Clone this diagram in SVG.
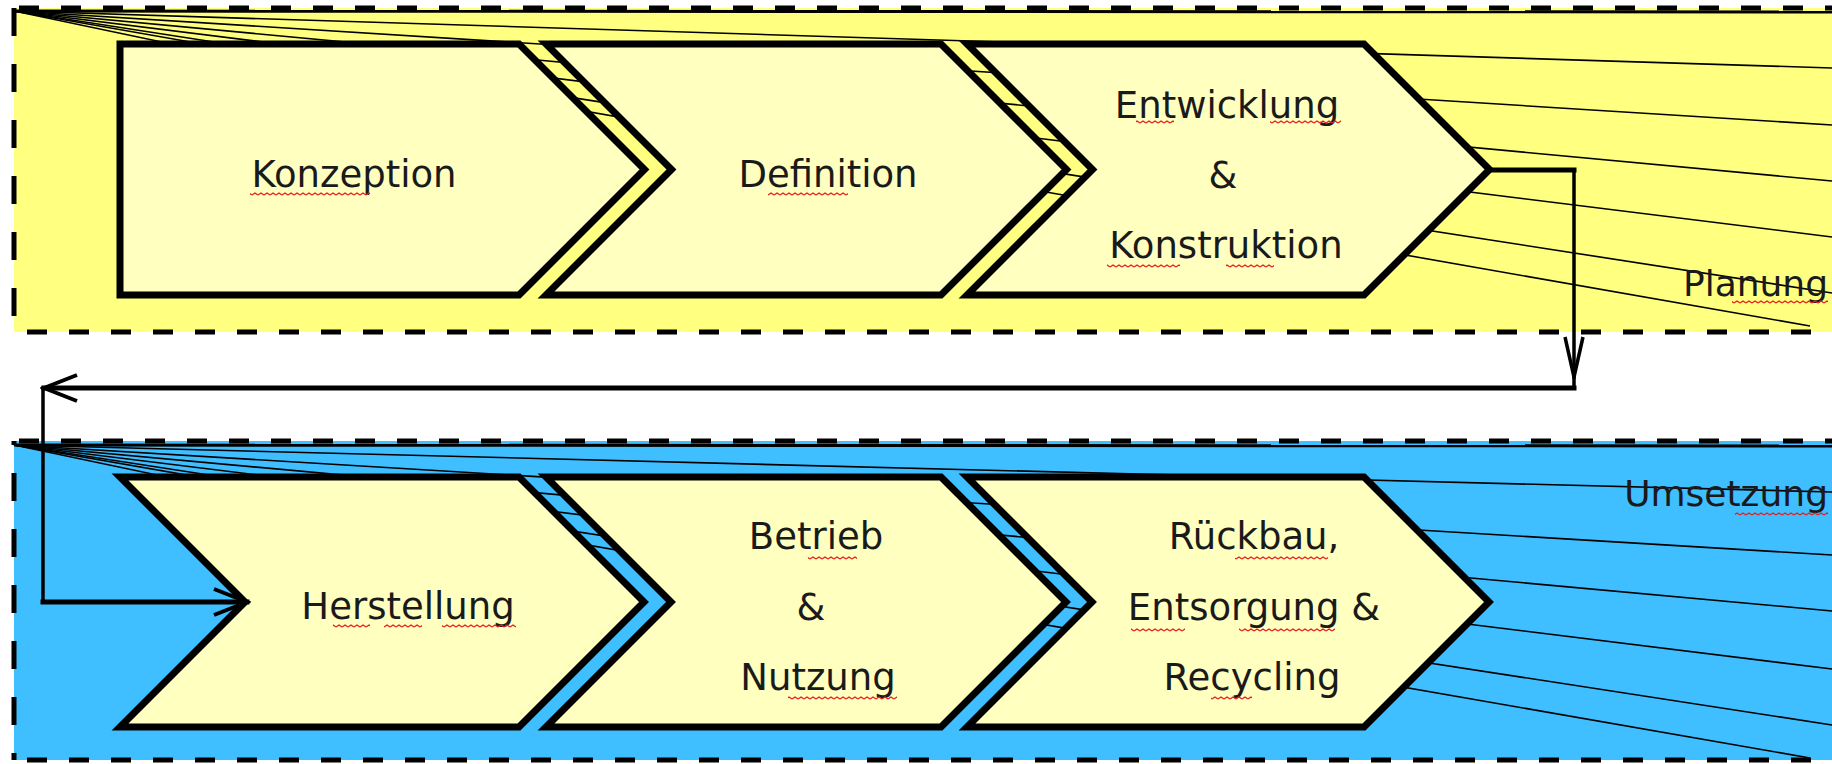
<svg xmlns="http://www.w3.org/2000/svg" width="1832" height="764" viewBox="0 0 1832 764">
<style>
.bg{fill:#fff}
.pY{fill:#FFFF80}
.pB{fill:#3FBFFF}
.bh{fill:none;stroke:#000;stroke-width:5;stroke-dasharray:20 22}
.bv{fill:none;stroke:#000;stroke-width:5;stroke-dasharray:28 28}
.ray{fill:none;stroke:#000;stroke-width:1.6}
.ray0{fill:none;stroke:#000;stroke-width:3}
.chev{fill:#FFFFC0;stroke:#000;stroke-width:7;stroke-linejoin:miter}
.t{font-family:"DejaVu Sans","Liberation Sans",sans-serif;font-size:37px;fill:#1a1a1a;text-anchor:middle}
.lbl{font-family:"DejaVu Sans","Liberation Sans",sans-serif;font-size:36px;fill:#1a1a1a;text-anchor:end}
.ch{fill:none;stroke:#000;stroke-width:5;stroke-linecap:square}
.cv{fill:none;stroke:#000;stroke-width:3.5;stroke-linecap:square}
.sq{fill:url(#squig)}
</style>
<defs>
<pattern id="squig" x="0" y="0" width="6" height="4" patternUnits="userSpaceOnUse">
<path d="M0 3 L3 1 L6 3" fill="none" stroke="#e8201c" stroke-width="1.4"/>
</pattern>
<marker id="vWide" markerUnits="userSpaceOnUse" viewBox="-40 -20 44 40" refX="0" refY="0" markerWidth="44" markerHeight="40" orient="auto">
<path d="M-33,-13 L0,0 L-33,13" fill="none" stroke="#000" stroke-width="4"/>
</marker>
<marker id="vNarrow" markerUnits="userSpaceOnUse" viewBox="-46 -14 50 28" refX="0" refY="0" markerWidth="50" markerHeight="28" orient="auto">
<path d="M-40,-9 L0,0 L-40,9" fill="none" stroke="#000" stroke-width="3.5"/>
</marker>
</defs>
<rect class="bg" x="0" y="0" width="1832" height="764"/>

<g id="panel-planung">
<rect class="pY" x="14" y="8" width="1830" height="324"/>
<g id="planung-rays">
<line class="ray0" x1="14" y1="11" x2="1832" y2="12"/>
<line class="ray" x1="14" y1="11" x2="1832" y2="68"/>
<line class="ray" x1="14" y1="11" x2="1832" y2="125"/>
<line class="ray" x1="14" y1="11" x2="1832" y2="181"/>
<line class="ray" x1="14" y1="11" x2="1832" y2="237"/>
<line class="ray" x1="14" y1="11" x2="1832" y2="293"/>
<line class="ray" x1="14" y1="11" x2="1810" y2="326"/>
<line class="ray" x1="14" y1="11" x2="400" y2="92"/>
</g>
<line class="bh" x1="14" y1="8" x2="1844" y2="8" stroke-dashoffset="37"/>
<line class="bh" x1="14" y1="332" x2="1844" y2="332" stroke-dashoffset="29"/>
<line class="bv" x1="14" y1="8" x2="14" y2="332"/>
<text class="lbl" x="1828" y="296">Planung</text>
<rect class="sq" x="1732" y="300" width="96" height="4"/>
</g>

<g id="panel-umsetzung">
<rect class="pB" x="14" y="441" width="1830" height="319"/>
<g id="umsetzung-rays">
<line class="ray0" x1="14" y1="445" x2="1832" y2="446"/>
<line class="ray" x1="14" y1="445" x2="1832" y2="492"/>
<line class="ray" x1="14" y1="445" x2="1832" y2="555"/>
<line class="ray" x1="14" y1="445" x2="1832" y2="611"/>
<line class="ray" x1="14" y1="445" x2="1832" y2="669"/>
<line class="ray" x1="14" y1="445" x2="1832" y2="725"/>
<line class="ray" x1="14" y1="445" x2="1810" y2="758"/>
<line class="ray" x1="14" y1="445" x2="400" y2="526"/>
</g>
<line class="bh" x1="14" y1="441" x2="1844" y2="441" stroke-dashoffset="37"/>
<line class="bh" x1="14" y1="760" x2="1844" y2="760" stroke-dashoffset="29"/>
<line class="bv" x1="14" y1="441" x2="14" y2="760" stroke-dashoffset="24"/>
<text class="lbl" x="1828" y="506">Umsetzung</text>
<rect class="sq" x="1735" y="512" width="93" height="4"/>
</g>

<g id="n-konzeption">
<polygon class="chev" points="120,44 519,44 644.5,169.5 519,295 120,295"/>
<text class="t" x="354" y="187">Konzeption</text>
<rect class="sq" x="250" y="192" width="120" height="4"/>
</g>
<g id="n-definition">
<polygon class="chev" points="546,44 941,44 1066.5,169.5 941,295 546,295 671.5,169.5"/>
<text class="t" x="828" y="187">Definition</text>
<rect class="sq" x="768" y="192" width="80" height="4"/>
</g>
<g id="n-entwicklung">
<polygon class="chev" points="967,44 1364,44 1489.5,169.5 1364,295 967,295 1092.5,169.5"/>
<text class="t" x="1227" y="118">Entwicklung</text>
<text class="t" x="1223" y="188">&amp;</text>
<text class="t" x="1226" y="258">Konstruktion</text>
<rect class="sq" x="1136" y="120" width="38" height="4"/>
<rect class="sq" x="1270" y="120" width="71" height="4"/>
<rect class="sq" x="1107" y="264" width="73" height="4"/>
<rect class="sq" x="1226" y="264" width="48" height="4"/>
</g>

<g id="n-herstellung">
<polygon class="chev" points="120,477 519,477 644,602 519,727 120,727 245,602"/>
<text class="t" x="408" y="619">Herstellung</text>
<rect class="sq" x="333" y="624" width="37" height="4"/>
<rect class="sq" x="384" y="624" width="38" height="4"/>
<rect class="sq" x="442" y="624" width="74" height="4"/>
</g>
<g id="n-betrieb">
<polygon class="chev" points="546,477 941,477 1066,602 941,727 546,727 671,602"/>
<text class="t" x="816" y="549">Betrieb</text>
<text class="t" x="811" y="620">&amp;</text>
<text class="t" x="818" y="690">Nutzung</text>
<rect class="sq" x="808" y="556" width="49" height="4"/>
<rect class="sq" x="788" y="696" width="109" height="4"/>
</g>
<g id="n-rueckbau">
<polygon class="chev" points="967,477 1364,477 1489,602 1364,727 967,727 1092,602"/>
<text class="t" x="1254" y="549">Rückbau,</text>
<text class="t" x="1254" y="620">Entsorgung &amp;</text>
<text class="t" x="1252" y="690">Recycling</text>
<rect class="sq" x="1235" y="556" width="93" height="4"/>
<rect class="sq" x="1131" y="628" width="54" height="4"/>
<rect class="sq" x="1239" y="628" width="96" height="4"/>
<rect class="sq" x="1211" y="696" width="41" height="4"/>
</g>

<g id="connectors">
<path class="ch" d="M1490,170 H1574"/>
<path class="cv" d="M1574,170 V377" marker-end="url(#vNarrow)"/>
<path class="cv" d="M1574,377 V388"/>
<path class="ch" d="M1574,388 H44" marker-end="url(#vWide)"/>
<path class="cv" d="M43,388 V602"/>
<path class="ch" d="M43,602 H247" marker-end="url(#vWide)"/>
</g>
</svg>
